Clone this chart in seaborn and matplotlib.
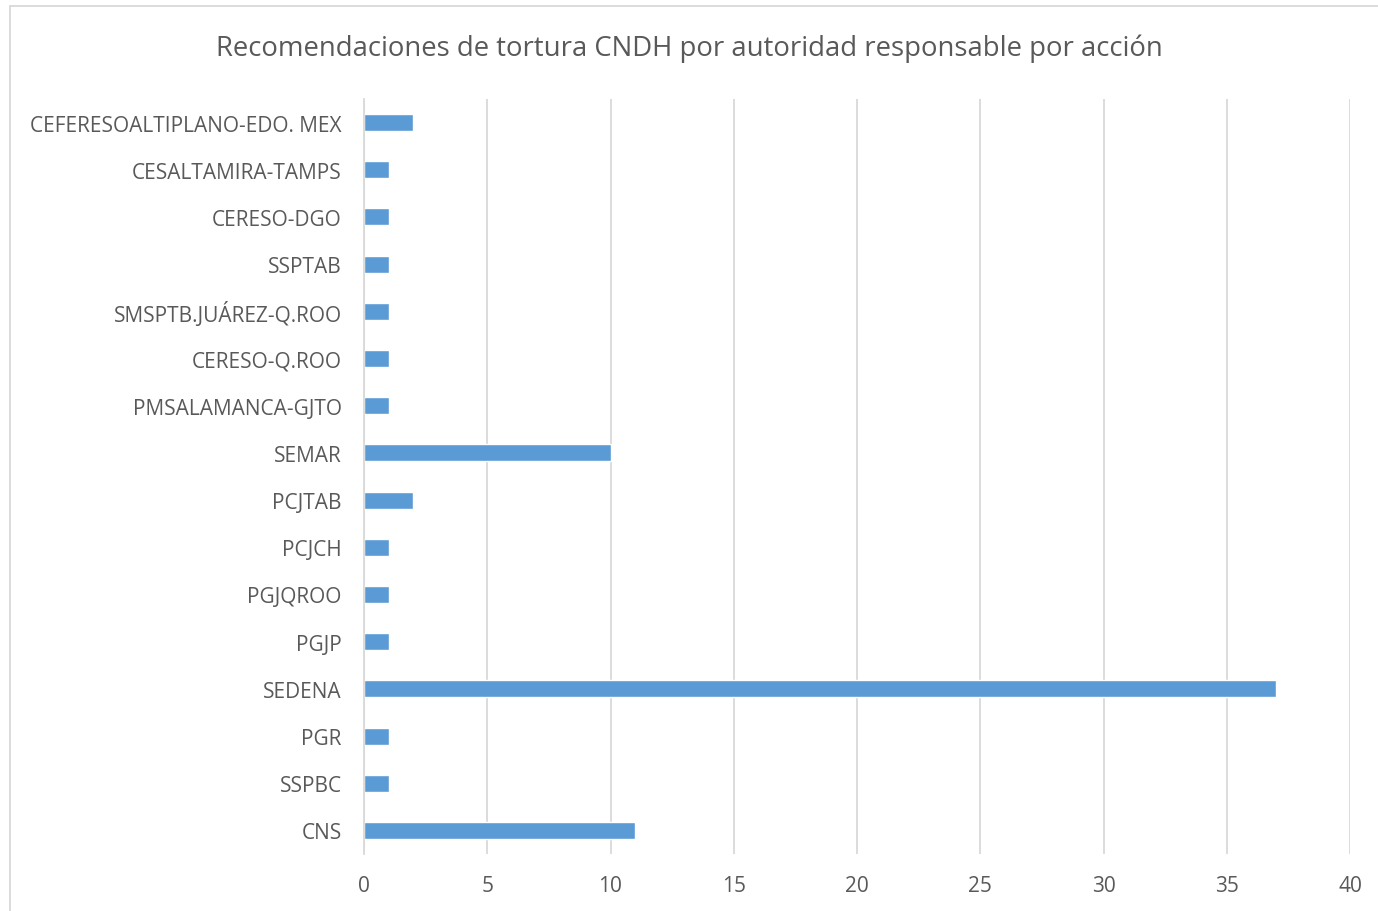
import matplotlib
matplotlib.use("Agg")
import matplotlib.pyplot as plt
import seaborn as sns
import pandas as pd
from matplotlib.lines import Line2D

autoridades = [
    "CEFERESOALTIPLANO-EDO. MEX", "CESALTAMIRA-TAMPS", "CERESO-DGO", "SSPTAB",
    "SMSPTB.JUÁREZ-Q.ROO", "CERESO-Q.ROO", "PMSALAMANCA-GJTO", "SEMAR",
    "PCJTAB", "PCJCH", "PGJQROO", "PGJP", "SEDENA", "PGR", "SSPBC", "CNS",
]
recomendaciones = [2, 1, 1, 1, 1, 1, 1, 10, 2, 1, 1, 1, 37, 1, 1, 11]
x_ticks = [0, 5, 10, 15, 20, 25, 30, 35, 40]

df = pd.DataFrame({"Autoridad": autoridades, "Recomendaciones": recomendaciones})

sns.set_theme(style="white")
plt.rcParams["font.family"] = ["Open Sans", "DejaVu Sans"]
texto = "#595959"

fig = plt.figure(figsize=(13.78, 9.12), dpi=100)
ax = fig.add_axes([364 / 1378, 1 - 855 / 912, (1350 - 364) / 1378, (855 - 100) / 912])

sns.barplot(data=df, x="Recomendaciones", y="Autoridad", order=autoridades,
            color="#5B9BD5", saturation=1, width=0.36, ax=ax, orient="h")

ax.set_xlim(0, 40)
ax.set_xticks(x_ticks)
ax.grid(axis="x", color="#D9D9D9", linewidth=1.3)
ax.set_axisbelow(True)
for s in ["top", "right", "bottom"]:
    ax.spines[s].set_visible(False)
ax.spines["left"].set_color("#D9D9D9")
ax.spines["left"].set_linewidth(1.3)
ax.tick_params(axis="both", length=0, colors=texto, labelsize=15)
ax.tick_params(axis="y", pad=16)
ax.tick_params(axis="x", pad=15)
ax.set_xlabel("")
ax.set_ylabel("")

fig.text(0.5, 1 - 49 / 912, "Recomendaciones de tortura CNDH por autoridad responsable por acción",
         ha="center", va="center", fontsize=19.8, color=texto)

# borde del gráfico
fig.add_artist(Line2D([10 / 1378, 10 / 1378], [0, 1 - 7 / 912], color="#D9D9D9", linewidth=1.3))
fig.add_artist(Line2D([10 / 1378, 1], [1 - 7 / 912, 1 - 7 / 912], color="#D9D9D9", linewidth=1.3))

fig.savefig("out.png", dpi=100)
